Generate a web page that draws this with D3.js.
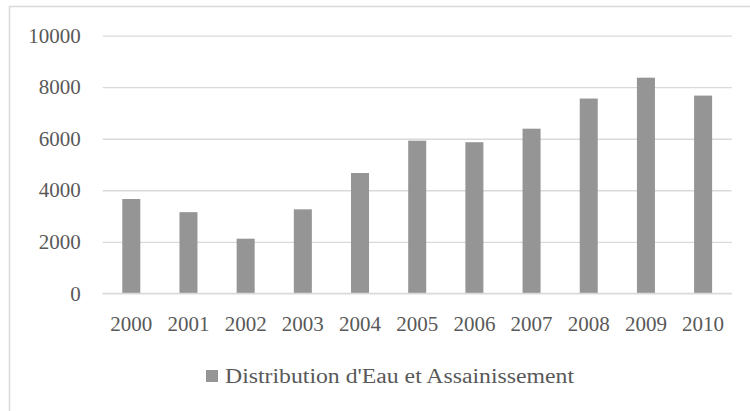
<!DOCTYPE html>
<html>
<head>
<meta charset="utf-8">
<script src="https://cdn.jsdelivr.net/npm/d3@7"></script>
<style>
  html, body { margin: 0; padding: 0; background: #fff; }
  svg { display: block; }
  text { font-family: 'Liberation Serif', serif; fill: #595959; }
</style>
</head>
<body>
<svg id="chart" width="750" height="411"></svg>
<script>
const years = ["2000","2001","2002","2003","2004","2005","2006","2007","2008","2009","2010"];
const values = [3660, 3150, 2120, 3260, 4670, 5925, 5865, 6390, 7560, 8370, 7675];
const yTicks = [0, 2000, 4000, 6000, 8000, 10000];
const seriesName = "Distribution d'Eau et Assainissement";

const svg = d3.select("#chart");
const W = 750, H = 411;
const plot = { left: 102.7, right: 731.7, top: 35.7, bottom: 293.3 };

svg.append("rect").attr("width", W).attr("height", H).attr("fill", "#fff");
svg.append("path")
  .attr("d", `M9.5,${H} V6.5 H${W}`)
  .attr("fill", "none").attr("stroke", "#d9d9d9").attr("stroke-width", 1.5);

const x = d3.scaleBand().domain(years).range([plot.left, plot.right]).paddingInner(0.685).paddingOuter(0.3425);
const y = d3.scaleLinear().domain([0, 10000]).range([plot.bottom, plot.top]);

const yAxis = d3.axisLeft(y).tickValues(yTicks).tickSize(-(plot.right - plot.left)).tickPadding(22).tickFormat(d3.format("d"));
const gy = svg.append("g").attr("transform", `translate(${plot.left},0)`).call(yAxis);
gy.attr("font-family", null).attr("font-size", null);
gy.select(".domain").remove();
gy.selectAll(".tick line").attr("stroke", "#d9d9d9").attr("stroke-width", 1.3);
gy.selectAll(".tick text").style("font-size", "21px").style("font-family", "'Liberation Serif', serif").attr("fill", "#595959");

svg.append("g").selectAll("rect").data(years).join("rect")
  .attr("x", d => x(d))
  .attr("width", x.bandwidth())
  .attr("y", (d, i) => y(values[i]))
  .attr("height", (d, i) => y(0) - y(values[i]))
  .attr("fill", "#959595");

svg.append("line").attr("x1", plot.left).attr("x2", plot.right)
  .attr("y1", y(0)).attr("y2", y(0)).attr("stroke", "#d9d9d9").attr("stroke-width", 1.3);

const xAxis = d3.axisBottom(x).tickSize(0).tickPadding(23);
const gx = svg.append("g").attr("transform", `translate(0,${plot.bottom})`).call(xAxis);
gx.attr("font-family", null).attr("font-size", null);
gx.select(".domain").remove();
gx.selectAll(".tick text").style("font-size", "21px").style("font-family", "'Liberation Serif', serif").attr("fill", "#595959");

const leg = svg.append("g");
leg.append("rect").attr("x", 206).attr("y", 370).attr("width", 12).attr("height", 12).attr("fill", "#959595");
leg.append("text").attr("x", 225).attr("y", 382.5)
  .style("font-size", "20px").style("font-family", "'Liberation Serif', serif")
  .attr("textLength", 349).attr("lengthAdjust", "spacingAndGlyphs").text(seriesName);
</script>
</body>
</html>
